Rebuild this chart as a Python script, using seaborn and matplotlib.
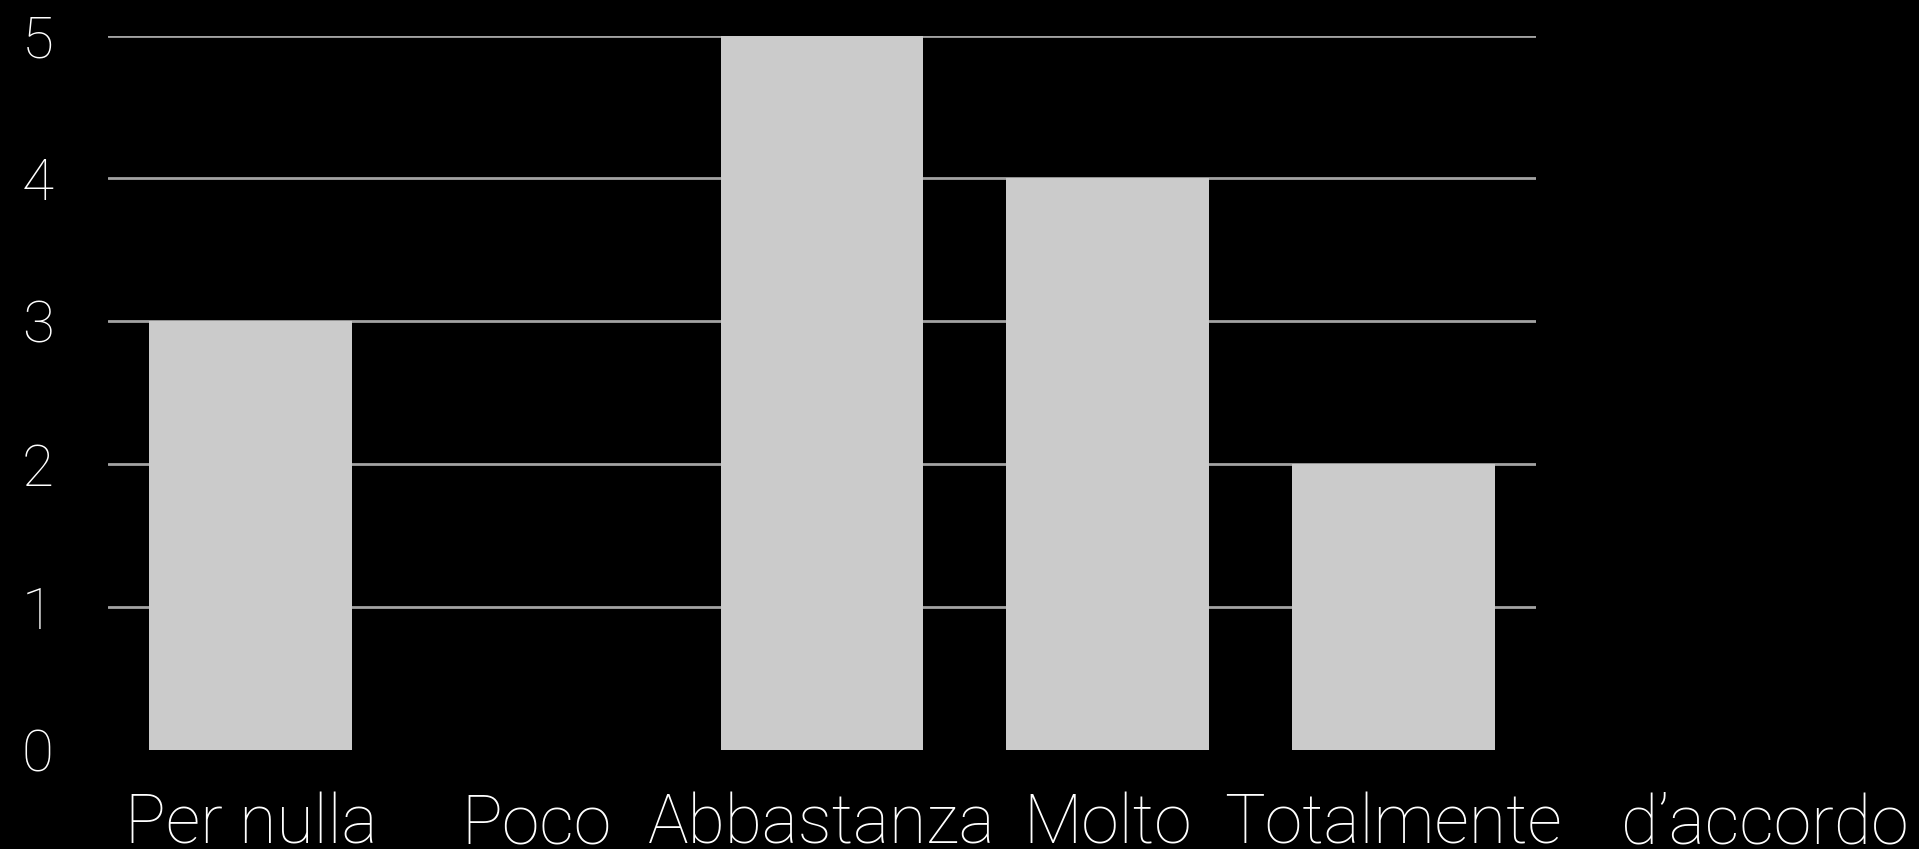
import matplotlib
matplotlib.use("Agg")
import matplotlib.pyplot as plt
import matplotlib.transforms as mtransforms
import seaborn as sns
import pandas as pd

categories = ["Per nulla", "Poco", "Abbastanza", "Molto", "Totalmente"]
values = [3, 0, 5, 4, 2]
extra_label = "d\u2019accordo"
y_ticks = [0, 1, 2, 3, 4, 5]

sns.set_style("dark")
plt.rcParams["font.family"] = ["Roboto", "DejaVu Sans"]
plt.rcParams["font.weight"] = "light"

df = pd.DataFrame({"cat": categories, "val": values})

fig = plt.figure(figsize=(19.19, 8.49), dpi=100, facecolor="black")
ax = fig.add_axes([108 / 1919, 1 - 750 / 849, (1536 - 108) / 1919, (750 - 35.5) / 849])
ax.set_facecolor("black")

sns.barplot(data=df, x="cat", y="val", order=categories, color="#cbcbcb",
            saturation=1, width=0.71, edgecolor="none", linewidth=0, ax=ax, zorder=3)

ax.set_xlim(-0.5, len(categories) - 0.5)
ax.set_ylim(0, 5)
ax.set_yticks(y_ticks)
ax.set_xlabel("")
ax.set_ylabel("")
for s in ax.spines.values():
    s.set_visible(False)

ax.yaxis.grid(True, color="#a3a3a3", linewidth=2)
ax.xaxis.grid(False)
ax.set_axisbelow(True)
ax.get_ygridlines()[0].set_visible(False)

xpad = 30
xsize = 49
ax.tick_params(axis="x", length=0, pad=xpad, labelsize=xsize, labelcolor="white")
ax.tick_params(axis="y", length=0, pad=39, labelsize=42, labelcolor="white")
for lab in ax.get_xticklabels() + ax.get_yticklabels():
    lab.set_fontweight("light")

trans = mtransforms.blended_transform_factory(ax.transData, ax.transAxes)
trans = mtransforms.offset_copy(trans, fig=fig, x=0, y=-xpad, units="points")
ax.text(5.3, 0, extra_label, transform=trans, ha="center", va="top",
        fontsize=xsize, color="white", fontweight="light", clip_on=False)

fig.savefig("out.png", dpi=100, facecolor="black")
